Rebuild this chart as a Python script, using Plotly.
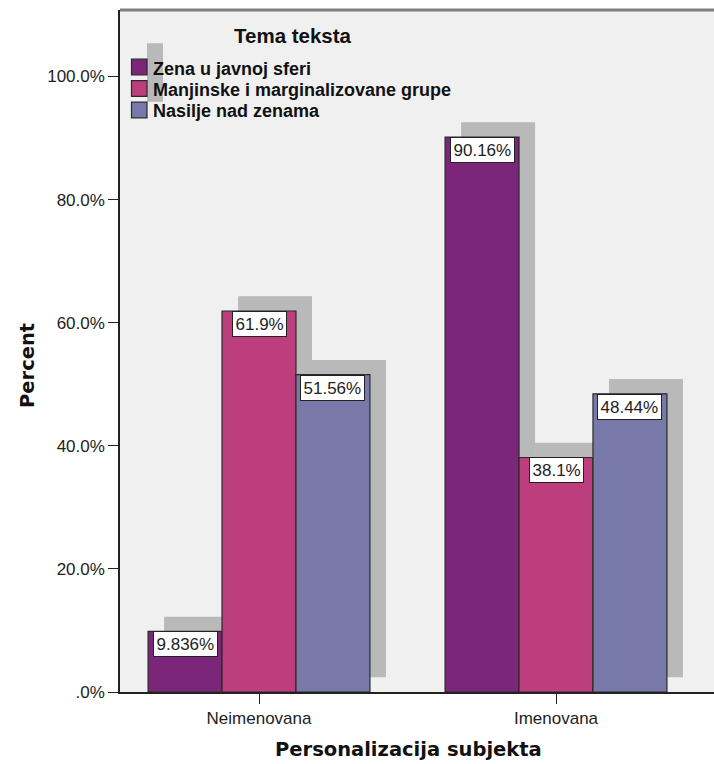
import plotly.graph_objects as go

categories = ["Neimenovana", "Imenovana"]
series_names = ["Zena u javnoj sferi", "Manjinske i marginalizovane grupe", "Nasilje nad zenama"]
zena = [9.836, 90.16]
manjinske = [61.9, 38.1]
nasilje = [51.56, 48.44]
label_text = [["9.836%", "90.16%"], ["61.9%", "38.1%"], ["51.56%", "48.44%"]]
ytick_vals = [0, 20, 40, 60, 80, 100]
ytick_text = [".0%", "20.0%", "40.0%", "60.0%", "80.0%", "100.0%"]

series_values = [zena, manjinske, nasilje]
colors = ["#7B2679", "#BC3E7C", "#7879A8"]
SHADOW = "#b9b9b9"
ARIAL = "Liberation Sans, Arial, sans-serif"
DEJAVU = "DejaVu Sans, Verdana, sans-serif"

W, H = 714, 764
PX0, PX1, PY0, PY1 = 120, 714, 10, 692


def px(x):
    return (x - PX0) / (PX1 - PX0)


def py(y):
    return (PY1 - y) / (PY1 - PY0)


BAR_W = 0.249
offsets = [-1.5 * BAR_W, -0.5 * BAR_W, 0.5 * BAR_W]
SH_DX = 0.054
SH_DY = 2.4
xs = list(range(len(categories)))

fig = go.Figure()

# depth shadows
for i, vals in enumerate(series_values):
    fig.add_trace(go.Bar(
        x=xs, y=vals, base=SH_DY, width=BAR_W, offset=offsets[i] + SH_DX,
        marker=dict(color=SHADOW, line=dict(width=0)),
        showlegend=False, hoverinfo="skip"))

# main bars
for i, vals in enumerate(series_values):
    fig.add_trace(go.Bar(
        x=xs, y=vals, width=BAR_W, offset=offsets[i], name=series_names[i],
        marker=dict(color=colors[i], line=dict(color="#2a2a2a", width=1.2)),
        showlegend=False))

annotations = []
for i, vals in enumerate(series_values):
    for j, v in enumerate(vals):
        annotations.append(dict(
            x=xs[j] + offsets[i] + BAR_W / 2, y=v, xref="x", yref="y",
            text=label_text[i][j], showarrow=False, yanchor="top", yshift=0,
            font=dict(family=ARIAL, size=17, color="#222"),
            bgcolor="white", bordercolor="#222", borderwidth=1, borderpad=2.5))

# legend (drawn as decorations in paper space)
shapes = [dict(type="line", xref="paper", yref="paper", x0=0, x1=1, y0=1, y1=1,
               line=dict(color="#808080", width=3))]
row_y = [67, 88.5, 110]
sw_half = 7.8
shapes.append(dict(type="rect", xref="paper", yref="paper", layer="above",
                   x0=px(147), x1=px(163), y0=py(row_y[-1] + sw_half - 16), y1=py(row_y[0] - sw_half - 16),
                   fillcolor=SHADOW, line=dict(width=0)))
for i, name in enumerate(series_names):
    shapes.append(dict(type="rect", xref="paper", yref="paper", layer="above",
                       x0=px(131.5), x1=px(147), y0=py(row_y[i] + sw_half), y1=py(row_y[i] - sw_half),
                       fillcolor=colors[i], line=dict(color="#2a2a2a", width=1.2)))
    annotations.append(dict(
        x=px(150.5), y=py(row_y[i] + 1.5), xref="paper", yref="paper",
        text="<b>" + name + "</b>", showarrow=False, xanchor="left", yanchor="middle",
        font=dict(family=ARIAL, size=18, color="#111")))
annotations.append(dict(
    x=px(292.5), y=py(36), xref="paper", yref="paper", text="<b>Tema teksta</b>",
    showarrow=False, xanchor="center", yanchor="middle",
    font=dict(family=ARIAL, size=20.5, color="#111")))

# axis titles
annotations.append(dict(
    x=px(408.5), y=py(749), xref="paper", yref="paper", text="<b>Personalizacija subjekta</b>",
    showarrow=False, xanchor="center", yanchor="middle",
    font=dict(family=DEJAVU, size=19.5, color="#111")))
annotations.append(dict(
    x=px(27), y=py(366), xref="paper", yref="paper", text="<b>Percent</b>", textangle=-90,
    showarrow=False, xanchor="center", yanchor="middle",
    font=dict(family=DEJAVU, size=19.5, color="#111")))

fig.update_layout(
    width=W, height=H,
    margin=dict(l=PX0, r=W - PX1, t=PY0, b=H - PY1),
    paper_bgcolor="white", plot_bgcolor="#f0f0f0",
    barmode="overlay", showlegend=False,
    font=dict(family=ARIAL, size=13, color="#222"),
    annotations=annotations, shapes=shapes,
)

fig.update_xaxes(
    range=[-0.468, 1.532], tickvals=xs, ticktext=categories,
    showline=True, linecolor="#222", linewidth=1.5,
    ticks="outside", ticklen=10, tickcolor="#222", tickwidth=1.2,
    showgrid=False, zeroline=False,
    tickfont=dict(family=ARIAL, size=17, color="#222"))

fig.update_yaxes(
    range=[0, (PY1 - PY0) / 6.155], tickvals=ytick_vals, ticktext=ytick_text,
    showline=True, linecolor="#222", linewidth=1.5,
    ticks="outside", ticklen=10, tickcolor="#222", tickwidth=1.2,
    showgrid=False, zeroline=False,
    tickfont=dict(family=ARIAL, size=17, color="#222"))

fig.write_html("out.html", config={"displayModeBar": False},
               post_script="document.body.style.margin='0';document.body.style.overflow='hidden';")
